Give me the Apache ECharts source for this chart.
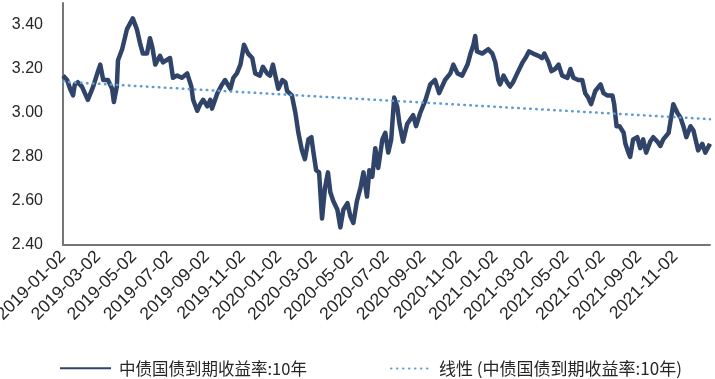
<!DOCTYPE html>
<html>
<head>
<meta charset="utf-8">
<script src="https://cdn.jsdelivr.net/npm/echarts@6/dist/echarts.min.js"></script>
<style>
  html, body { margin: 0; padding: 0; background: #fff; }
  #chart { width: 715px; height: 379px; }
</style>
</head>
<body>
<div id="chart"></div>
<script>
const seriesName = "中债国债到期收益率:10年";
const trendName = "线性 (中债国债到期收益率:10年)";

const dates = [
  "2019-01-02","2019-01-09","2019-01-14","2019-01-19","2019-01-22","2019-01-27","2019-02-03","2019-02-13",
  "2019-02-22","2019-03-01","2019-03-06","2019-03-11","2019-03-19","2019-03-26","2019-03-29","2019-04-03",
  "2019-04-05","2019-04-12","2019-04-20","2019-04-30","2019-05-07","2019-05-12","2019-05-17","2019-05-24",
  "2019-05-29","2019-06-02","2019-06-07","2019-06-15","2019-06-20","2019-07-02","2019-07-07","2019-07-14",
  "2019-07-22","2019-07-31","2019-08-07","2019-08-10","2019-08-17","2019-08-22","2019-08-27","2019-09-03",
  "2019-09-08","2019-09-11","2019-09-20","2019-09-28","2019-10-03","2019-10-12","2019-10-17","2019-10-23",
  "2019-10-29","2019-11-04","2019-11-11","2019-11-18","2019-11-23","2019-12-01","2019-12-06","2019-12-13",
  "2019-12-18","2019-12-23","2019-12-27","2020-01-01","2020-01-08","2020-01-13","2020-01-16","2020-01-24",
  "2020-01-30","2020-02-04","2020-02-10","2020-02-15","2020-02-21","2020-02-26","2020-02-29","2020-03-05",
  "2020-03-10","2020-03-15","2020-03-20","2020-03-25","2020-03-29","2020-04-03","2020-04-10","2020-04-15",
  "2020-04-20","2020-04-27","2020-05-02","2020-05-07","2020-05-13","2020-05-19","2020-05-24","2020-05-30",
  "2020-06-03","2020-06-08","2020-06-13","2020-06-18","2020-06-25","2020-06-30","2020-07-05","2020-07-10",
  "2020-07-15","2020-07-20","2020-07-24","2020-07-30","2020-08-06","2020-08-11","2020-08-16","2020-08-21",
  "2020-08-28","2020-09-06","2020-09-14","2020-09-22","2020-09-29","2020-10-09","2020-10-18","2020-10-23",
  "2020-10-30","2020-11-07","2020-11-16","2020-11-21","2020-11-26","2020-11-29","2020-12-02","2020-12-11",
  "2020-12-16","2020-12-21","2020-12-28","2021-01-02","2021-01-07","2021-01-10","2021-01-16","2021-01-22",
  "2021-01-27","2021-02-01","2021-02-08","2021-02-17","2021-02-22","2021-02-28","2021-03-07","2021-03-16",
  "2021-03-22","2021-03-26","2021-04-02","2021-04-07","2021-04-13","2021-04-19","2021-04-25","2021-05-04",
  "2021-05-09","2021-05-14","2021-05-22","2021-05-29","2021-06-03","2021-06-08","2021-06-13","2021-06-20",
  "2021-06-29","2021-07-04","2021-07-10","2021-07-19","2021-07-22","2021-07-26","2021-07-31","2021-08-07",
  "2021-08-10","2021-08-15","2021-08-18","2021-08-23","2021-08-30","2021-09-04","2021-09-09","2021-09-14",
  "2021-09-21","2021-09-26","2021-10-03","2021-10-08","2021-10-13","2021-10-22","2021-10-30","2021-11-06",
  "2021-11-11","2021-11-16","2021-11-21","2021-11-28","2021-12-03","2021-12-11","2021-12-18","2021-12-23",
  "2021-12-31"
];

const yields = [
  3.17, 3.15, 3.11, 3.08, 3.13, 3.14, 3.12, 3.06,
  3.12, 3.18, 3.22, 3.15, 3.15, 3.11, 3.05, 3.12,
  3.24, 3.29, 3.38, 3.43, 3.38, 3.32, 3.27, 3.27,
  3.34, 3.30, 3.22, 3.26, 3.23, 3.25, 3.16, 3.17,
  3.16, 3.18, 3.12, 3.06, 3.01, 3.04, 3.06, 3.03,
  3.06, 3.02, 3.09, 3.13, 3.15, 3.11, 3.16, 3.18,
  3.22, 3.31, 3.27, 3.25, 3.18, 3.17, 3.21, 3.18,
  3.17, 3.22, 3.17, 3.11, 3.15, 3.14, 3.10, 3.08,
  3.00, 2.91, 2.83, 2.79, 2.88, 2.89, 2.83, 2.74,
  2.73, 2.52, 2.66, 2.73, 2.64, 2.60, 2.56, 2.48,
  2.56, 2.59, 2.53, 2.50, 2.60, 2.66, 2.73, 2.62,
  2.74, 2.71, 2.84, 2.75, 2.88, 2.91, 2.82, 2.88,
  3.07, 3.03, 2.95, 2.87, 2.95, 2.97, 2.99, 2.94,
  3.00, 3.06, 3.13, 3.15, 3.09, 3.15, 3.18, 3.22,
  3.18, 3.17, 3.22, 3.27, 3.31, 3.35, 3.28, 3.27,
  3.28, 3.29, 3.27, 3.23, 3.15, 3.13, 3.17, 3.14,
  3.12, 3.14, 3.18, 3.23, 3.25, 3.28, 3.27, 3.26,
  3.25, 3.27, 3.23, 3.19, 3.20, 3.22, 3.17, 3.16,
  3.20, 3.16, 3.15, 3.15, 3.09, 3.07, 3.04, 3.10,
  3.13, 3.09, 3.08, 3.08, 3.04, 2.94, 2.94, 2.91,
  2.86, 2.82, 2.80, 2.88, 2.89, 2.84, 2.88, 2.82,
  2.87, 2.89, 2.87, 2.85, 2.88, 2.91, 3.04, 3.00,
  2.98, 2.94, 2.89, 2.94, 2.92, 2.83, 2.86, 2.82,
  2.86
];

// linear trend, read at both ends of the plot
const trendDates = ["2019-01-02", "2021-12-31"];
const trendValues = [3.142, 2.972];

const tickDates = [
  "2019-01-02","2019-03-02","2019-05-02","2019-07-02","2019-09-02","2019-11-02",
  "2020-01-02","2020-03-02","2020-05-02","2020-07-02","2020-09-02","2020-11-02",
  "2021-01-02","2021-03-02","2021-05-02","2021-07-02","2021-09-02","2021-11-02"
];

const chart = echarts.init(document.getElementById("chart"));

const labelFont = "Liberation Sans, Arial, sans-serif";
const cjkFont = "Noto Sans CJK SC, sans-serif";
const textColor = "#262626";
const axisColor = "#767676";

chart.setOption({
    animation: false,
    backgroundColor: "#fff",

    grid: { left: 63, right: 5, top: 3, bottom: 134, outerBoundsMode: "none" },

    legend: [
        {
            left: 59,
            top: 360,
            padding: 0,
            itemWidth: 51,
            itemHeight: 14,
            itemStyle: { opacity: 0 },
            data: [seriesName],
            textStyle: { color: textColor, fontSize: 16.5, fontFamily: cjkFont, padding: [0, 0, 0, 3] }
        },
        {
            left: 390,
            top: 360,
            padding: 0,
            itemWidth: 38,
            itemHeight: 14,
            itemStyle: { opacity: 0 },
            data: [trendName],
            textStyle: { color: textColor, fontSize: 17, fontFamily: cjkFont, padding: [0, 0, 0, 5] }
        }
    ],

    xAxis: {
        type: "time",
        min: "2019-01-02",
        max: "2021-12-31",
        axisLine: { lineStyle: { color: axisColor, width: 2 } },
        axisTick: { show: false },
        splitLine: { show: false },
        axisLabel: {
            customValues: tickDates.map(d => echarts.time.parse(d).getTime()),
            formatter: "{yyyy}-{MM}-{dd}",
            rotate: 45,
            margin: 9,
            color: textColor,
            fontSize: 17.5,
            fontFamily: labelFont
        }
    },

    yAxis: {
        type: "value",
        min: 2.4,
        max: 3.5,
        interval: 0.2,
        axisLine: { show: true, lineStyle: { color: axisColor, width: 2 } },
        axisTick: { show: false },
        splitLine: { show: false },
        axisLabel: {
            showMaxLabel: false,
            margin: 20,
            color: textColor,
            fontSize: 16,
            fontFamily: labelFont,
            formatter: v => v.toFixed(2)
        }
    },

    series: [
        {
            name: seriesName,
            type: "line",
            symbol: "none",
            data: dates.map((d, i) => [d, yields[i]]),
            lineStyle: { color: "#2f4468", width: 4.5, join: "round" },
            itemStyle: { color: "#2f4468" },
            z: 2
        },
        {
            name: trendName,
            type: "line",
            symbol: "none",
            data: trendDates.map((d, i) => [d, trendValues[i]]),
            lineStyle: { color: "#5b9bd5", width: 2.5, type: [0.5, 5.5], cap: "round" },
            itemStyle: { color: "#5b9bd5" },
            z: 3
        }
    ]
});
</script>
</body>
</html>
